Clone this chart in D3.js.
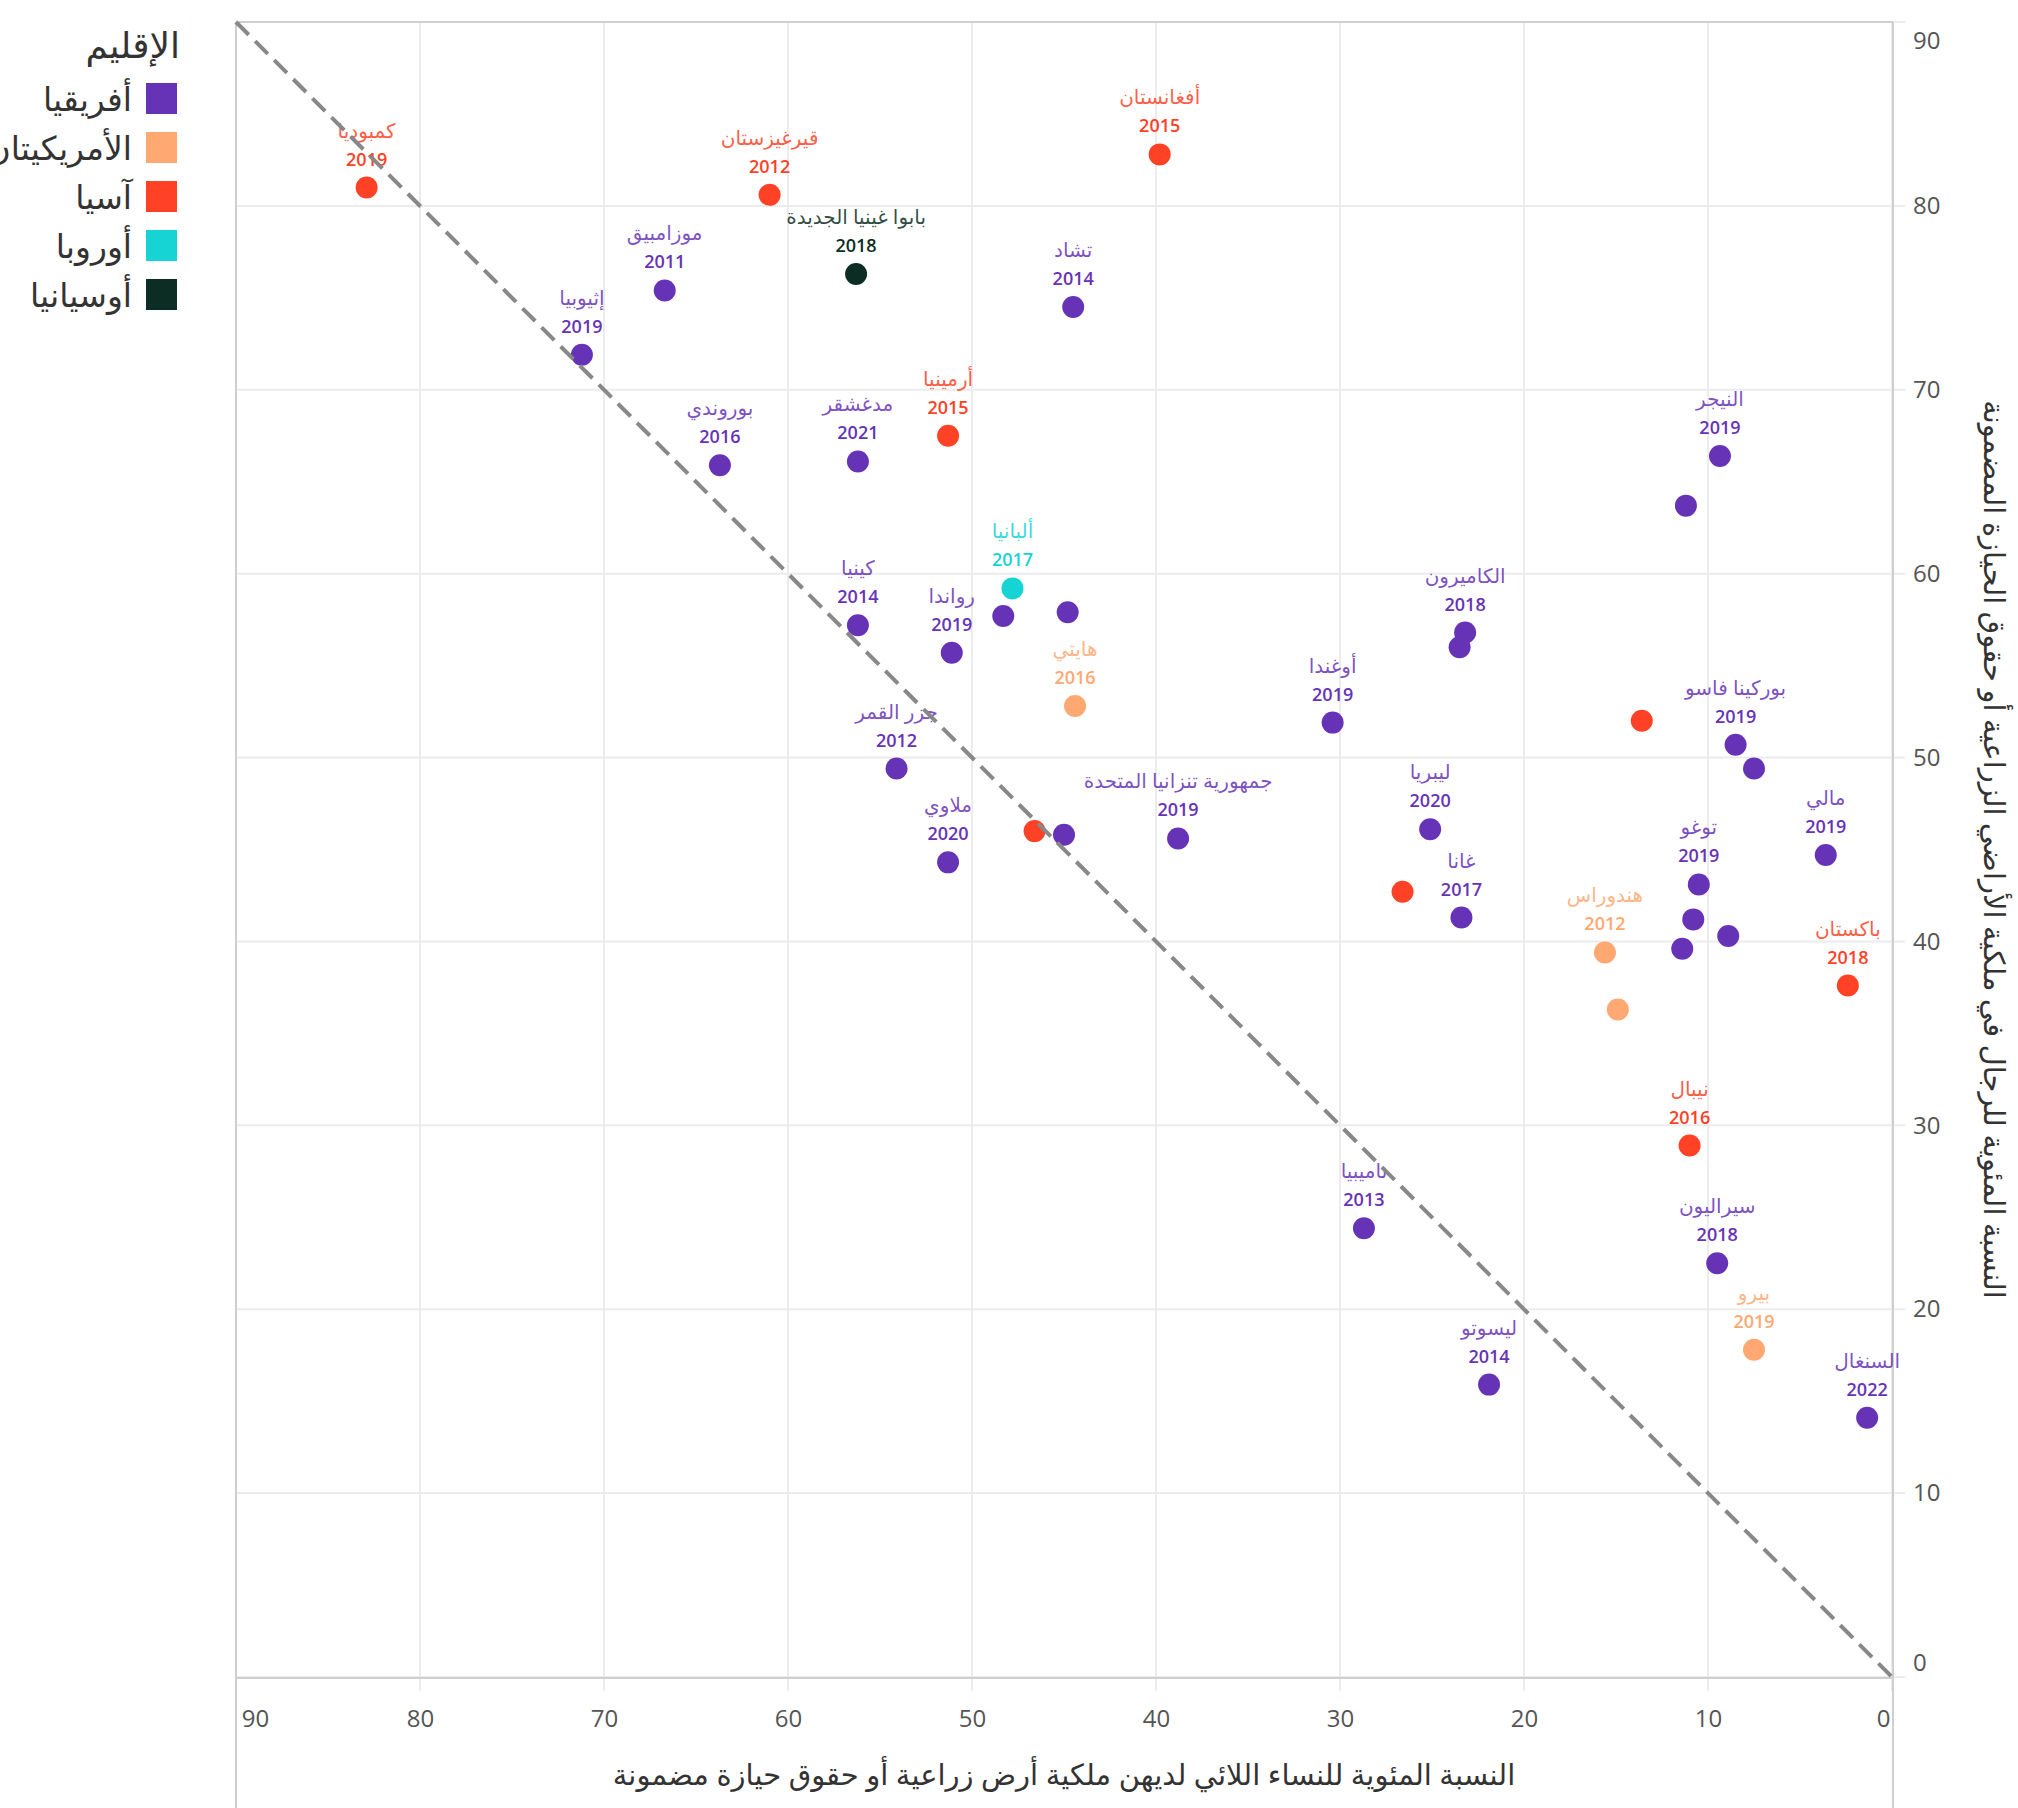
<!DOCTYPE html>
<html>
<head>
<meta charset="utf-8">
<script src="https://cdn.jsdelivr.net/npm/d3@7/dist/d3.min.js"></script>
<style>
  html, body { margin: 0; padding: 0; background: #fff; }
  svg { display: block; font-family: "Open Sans", "Noto Sans", "DejaVu Sans", sans-serif; }
</style>
</head>
<body>
<svg id="chart" width="2018" height="1808"></svg>
<script>
// ---------------- data ----------------
const regions = ["أفريقيا", "الأمريكيتان", "آسيا", "أوروبا", "أوسيانيا"];
const regionColors = ["#6733b6", "#ffa872", "#ff4126", "#17d4d4", "#0b2d23"];

const countries = [
  "كمبوديا", "قيرغيزستان", "أفغانستان", "بابوا غينيا الجديدة", "موزامبيق", "تشاد", "إثيوبيا",
  "أرمينيا", "بوروندي", "مدغشقر", "النيجر", "", "ألبانيا", "", "", "رواندا", "كينيا",
  "هايتي", "جزر القمر", "ملاوي", "", "", "جمهورية تنزانيا المتحدة", "أوغندا", "الكاميرون", "",
  "ليبريا", "غانا", "", "", "بوركينا فاسو", "", "مالي", "توغو", "", "", "",
  "هندوراس", "", "باكستان", "نيبال", "ناميبيا", "سيراليون", "بيرو", "ليسوتو", "السنغال"
];
const years = [
  2019, 2012, 2015, 2018, 2011, 2014, 2019,
  2015, 2016, 2021, 2019, null, 2017, null, null, 2019, 2014,
  2016, 2012, 2020, null, null, 2019, 2019, 2018, null,
  2020, 2017, null, null, 2019, null, 2019, 2019, null, null, null,
  2012, null, 2018, 2016, 2013, 2018, 2019, 2014, 2022
];
const pointRegion = [
  "آسيا", "آسيا", "آسيا", "أوسيانيا", "أفريقيا", "أفريقيا", "أفريقيا",
  "آسيا", "أفريقيا", "أفريقيا", "أفريقيا", "أفريقيا", "أوروبا", "أفريقيا", "أفريقيا", "أفريقيا", "أفريقيا",
  "الأمريكيتان", "أفريقيا", "أفريقيا", "آسيا", "أفريقيا", "أفريقيا", "أفريقيا", "أفريقيا", "أفريقيا",
  "أفريقيا", "أفريقيا", "آسيا", "آسيا", "أفريقيا", "أفريقيا", "أفريقيا", "أفريقيا", "أفريقيا", "أفريقيا", "أفريقيا",
  "الأمريكيتان", "الأمريكيتان", "آسيا", "آسيا", "أفريقيا", "أفريقيا", "الأمريكيتان", "أفريقيا", "أفريقيا"
];
// % of women owning agricultural land / secure tenure rights
const womenPct = [
  82.9, 61.0, 39.8, 56.3, 66.7, 44.5, 71.2,
  51.3, 63.7, 56.2, 9.35, 11.2, 47.8, 48.3, 44.8, 51.1, 56.2,
  44.4, 54.1, 51.3, 46.6, 45.0, 38.8, 30.4, 23.2, 23.5,
  25.1, 23.4, 26.6, 13.6, 8.5, 7.5, 3.6, 10.5, 10.8, 11.4, 8.9,
  15.6, 14.9, 2.4, 11.0, 28.7, 9.5, 7.5, 21.9, 1.35
];
// % of men owning agricultural land / secure tenure rights
const menPct = [
  81.0, 80.6, 82.8, 76.3, 75.4, 74.5, 71.9,
  67.5, 65.9, 66.1, 66.4, 63.7, 59.2, 57.7, 57.9, 55.7, 57.2,
  52.8, 49.4, 44.3, 46.0, 45.8, 45.6, 51.9, 56.8, 56.0,
  46.1, 41.3, 42.7, 52.0, 50.7, 49.4, 44.7, 43.1, 41.2, 39.6, 40.3,
  39.4, 36.3, 37.6, 28.9, 24.4, 22.5, 17.8, 15.9, 14.1
];
const tickValues = [90, 80, 70, 60, 50, 40, 30, 20, 10, 0];
const legendTitle = "الإقليم";
const xTitle = "النسبة المئوية للنساء اللائي لديهن ملكية أرض زراعية أو حقوق حيازة مضمونة";
const yTitle = "النسبة المئوية للرجال في ملكية الأراضي الزراعية أو حقوق الحيازة المضمونة";

(function () {
// ---------------- layout ----------------
const W = 2018, H = 1808;
const pL = 236, pR = 1892, pT = 22, pB = 1677;
const svg = d3.select("#chart");

const x = d3.scaleLinear().domain([90, 0]).range([pL, pR]);
const y = d3.scaleLinear().domain([0, 90]).range([pB, pT]);
const color = d3.scaleOrdinal().domain(regions).range(regionColors);

const data = countries.map((c, i) => ({
  name: c, year: years[i], region: pointRegion[i], wx: womenPct[i], my: menPct[i]
}));

// gridlines
const grid = svg.append("g");
grid.selectAll("line.vx").data(tickValues).join("line")
  .attr("x1", d => x(d)).attr("x2", d => x(d))
  .attr("y1", pT).attr("y2", pB + 14)
  .attr("stroke", "#ececec").attr("stroke-width", 2);
grid.selectAll("line.hy").data(tickValues).join("line")
  .attr("x1", pL).attr("x2", pR + 13)
  .attr("y1", d => y(d)).attr("y2", d => y(d))
  .attr("stroke", "#ececec").attr("stroke-width", 2);

// frame lines
const frame = svg.append("g").attr("stroke", "#cfcfcf").attr("stroke-width", 2);
frame.append("line").attr("x1", pL).attr("x2", pR + 1).attr("y1", pT).attr("y2", pT);
frame.append("line").attr("x1", pL).attr("x2", pR + 1).attr("y1", pB + 1).attr("y2", pB + 1);
frame.append("line").attr("x1", pL).attr("x2", pL).attr("y1", pT).attr("y2", H);
frame.append("line").attr("x1", pR + 1).attr("x2", pR + 1).attr("y1", pT).attr("y2", H);

// axes
const xAxis = svg.append("g").attr("transform", `translate(0,${pB + 1})`)
  .call(d3.axisBottom(x).tickValues(tickValues).tickSize(0).tickPadding(32).tickFormat(d3.format("d")));
xAxis.select(".domain").remove();
xAxis.selectAll("text").attr("font-size", 24).attr("fill", "#555")
  .attr("font-family", "'Open Sans', sans-serif");
xAxis.selectAll(".tick").filter(d => d === 90).select("text").attr("dx", 19);
xAxis.selectAll(".tick").filter(d => d === 0).select("text").attr("dx", -9);

const yAxis = svg.append("g").attr("transform", `translate(${pR + 1},0)`)
  .call(d3.axisRight(y).tickValues(tickValues).tickSize(0).tickPadding(20).tickFormat(d3.format("d")));
yAxis.select(".domain").remove();
yAxis.selectAll("text").attr("font-size", 24).attr("fill", "#555")
  .attr("font-family", "'Open Sans', sans-serif");
yAxis.selectAll(".tick").filter(d => d === 90).select("text").attr("dy", "1.1em");
yAxis.selectAll(".tick").filter(d => d === 0).select("text").attr("dy", "-0.28em");

// axis titles
svg.append("text")
  .attr("x", (pL + pR) / 2).attr("y", 1785)
  .attr("text-anchor", "middle").attr("font-size", 29).attr("fill", "#333")
  .text(xTitle);
svg.append("text")
  .attr("transform", `translate(1984,${(pT + pB) / 2}) rotate(90)`)
  .attr("text-anchor", "middle").attr("font-size", 29).attr("fill", "#333")
  .text(yTitle);

// labels
const labels = svg.append("g").attr("text-anchor", "middle");
const lab = data.filter(d => d.name);
labels.selectAll("text.name").data(lab).join("text").attr("class", "name")
  .attr("x", d => x(d.wx)).attr("y", d => y(d.my) - 50)
  .attr("font-size", 20).attr("fill", d => color(d.region)).attr("fill-opacity", 0.85)
  .text(d => d.name);
labels.selectAll("text.year").data(lab).join("text").attr("class", "year")
  .attr("x", d => x(d.wx)).attr("y", d => y(d.my) - 22)
  .attr("font-size", 18).attr("font-weight", 600).attr("fill", d => color(d.region))
  .text(d => d.year);

// points
svg.append("g").selectAll("circle").data(data).join("circle")
  .attr("cx", d => x(d.wx)).attr("cy", d => y(d.my)).attr("r", 11)
  .attr("fill", d => color(d.region));

// diagonal equality line
svg.append("line")
  .attr("x1", x(90)).attr("y1", y(90)).attr("x2", x(0)).attr("y2", y(0))
  .attr("stroke", "#888").attr("stroke-width", 4).attr("stroke-dasharray", "18,9");

// legend
const lg = svg.append("g");
lg.append("text").attr("x", 180).attr("y", 58).attr("text-anchor", "end")
  .attr("font-size", 36).attr("fill", "#333").text(legendTitle);
const items = lg.selectAll("g.item").data(regions).join("g").attr("class", "item")
  .attr("transform", (d, i) => `translate(0,${83 + i * 49})`);
items.append("rect").attr("x", 146).attr("y", 0).attr("width", 31).attr("height", 31)
  .attr("fill", d => color(d));
items.append("text").attr("x", 132).attr("y", 28).attr("text-anchor", "end")
  .attr("font-size", 33).attr("fill", "#333").text(d => d);
})();
</script>
</body>
</html>
